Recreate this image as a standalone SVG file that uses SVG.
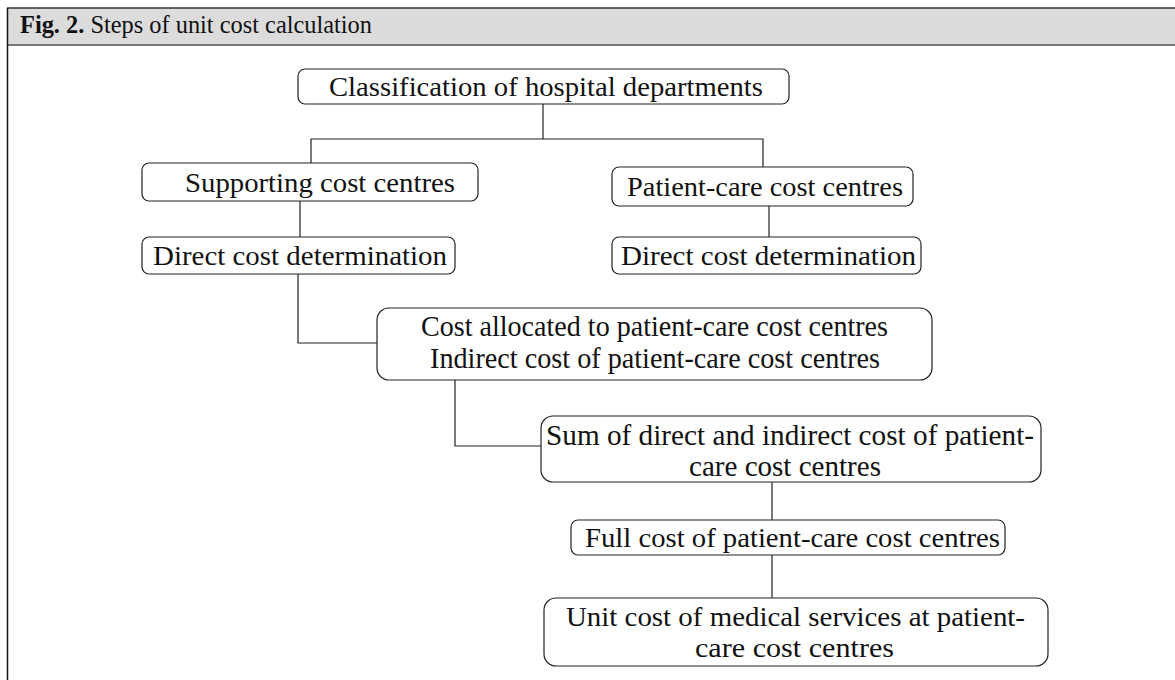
<svg xmlns="http://www.w3.org/2000/svg" width="1175" height="680" viewBox="0 0 1175 680">
<style>
.box{fill:#fff;stroke:#222;stroke-width:1.2}
.t{font-family:"Liberation Serif","Times New Roman",serif;font-size:27px;fill:#111}
.c{font-family:"Liberation Serif","Times New Roman",serif;font-size:29px;fill:#111}
.ln{fill:none;stroke:#222;stroke-width:1.2}
</style>
<rect x="0" y="0" width="1175" height="680" fill="#fff"/>
<g id="header">
<rect x="7" y="8" width="1168" height="37" fill="#dcdcdc"/>
<line x1="7" y1="8" x2="1175" y2="8" stroke="#333" stroke-width="1.5"/>
<line x1="7" y1="45" x2="1175" y2="45" stroke="#777" stroke-width="2"/>
<line x1="7.5" y1="8" x2="7.5" y2="680" stroke="#111" stroke-width="1.5"/>
<text x="20" y="33" font-family="Liberation Serif, serif" font-size="24.5" fill="#111" textLength="352" lengthAdjust="spacingAndGlyphs"><tspan font-weight="bold">Fig. 2.</tspan> Steps of unit cost calculation</text>
</g>
<g id="connectors">
<polyline class="ln" points="543,104 543,139"/>
<polyline class="ln" points="311,163 311,139 763,139 763,167"/>
<polyline class="ln" points="300,201 300,237"/>
<polyline class="ln" points="769,206 769,237"/>
<polyline class="ln" points="298,274 298,343 377,343"/>
<polyline class="ln" points="455,380 455,446 541,446"/>
<polyline class="ln" points="772,482 772,520"/>
<polyline class="ln" points="772,555 772,598"/>
</g>
<g id="n1"><rect class="box" x="298" y="69" width="491" height="35" rx="7"/>
<text class="t" x="329" y="96" textLength="434" lengthAdjust="spacingAndGlyphs">Classification of hospital departments</text></g>
<g id="n2"><rect class="box" x="142" y="163" width="336" height="38" rx="7"/>
<text class="t" x="185" y="192" textLength="270" lengthAdjust="spacingAndGlyphs">Supporting cost centres</text></g>
<g id="n3"><rect class="box" x="612" y="167" width="301" height="39" rx="7"/>
<text class="t" x="627" y="196" textLength="276" lengthAdjust="spacingAndGlyphs">Patient-care cost centres</text></g>
<g id="n4"><rect class="box" x="142" y="237" width="313" height="37" rx="7"/>
<text class="t" x="153" y="265" textLength="294" lengthAdjust="spacingAndGlyphs">Direct cost determination</text></g>
<g id="n5"><rect class="box" x="612" y="237" width="309" height="37" rx="7"/>
<text class="t" x="621" y="265" textLength="295" lengthAdjust="spacingAndGlyphs">Direct cost determination</text></g>
<g id="n6"><rect class="box" x="377" y="308" width="555" height="72" rx="12"/>
<text class="c" x="421" y="336" textLength="467" lengthAdjust="spacingAndGlyphs">Cost allocated to patient-care cost centres</text>
<text class="c" x="430" y="368" textLength="450" lengthAdjust="spacingAndGlyphs">Indirect cost of patient-care cost centres</text></g>
<g id="n7"><rect class="box" x="541" y="416" width="500" height="66" rx="12"/>
<text class="c" x="546" y="445" textLength="488" lengthAdjust="spacingAndGlyphs">Sum of direct and indirect cost of patient-</text>
<text class="c" x="689" y="476" textLength="192" lengthAdjust="spacingAndGlyphs">care cost centres</text></g>
<g id="n8"><rect class="box" x="571" y="520" width="434" height="35" rx="7"/>
<text class="t" x="585" y="547" textLength="415" lengthAdjust="spacingAndGlyphs">Full cost of patient-care cost centres</text></g>
<g id="n9"><rect class="box" x="544" y="598" width="504" height="68" rx="12"/>
<text class="t" x="566" y="626" textLength="459" lengthAdjust="spacingAndGlyphs">Unit cost of medical services at patient-</text>
<text class="t" x="695" y="657" textLength="199" lengthAdjust="spacingAndGlyphs">care cost centres</text></g>
</svg>
